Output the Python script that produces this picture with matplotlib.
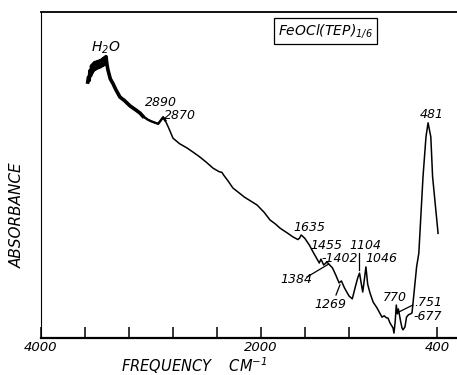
import matplotlib.pyplot as plt

plt.rcParams['font.family'] = ['Liberation Sans Narrow', 'DejaVu Sans']
plt.rcParams['font.style'] = 'italic'
plt.rcParams['mathtext.fontset'] = 'custom'
plt.rcParams['mathtext.rm'] = 'Liberation Sans Narrow:italic'
plt.rcParams['mathtext.it'] = 'Liberation Sans Narrow:italic'

# IR spectrum of FeOCl(TEP)1/6 : wavenumber (cm-1) / absorbance (arb. units)
wavenumber = [3575, 3568, 3562, 3555, 3548, 3540, 3533, 3527, 3520, 3512,
              3505, 3497, 3490, 3482, 3475, 3467, 3460, 3452, 3445, 3437,
              3430, 3422, 3415, 3409, 3400, 3391, 3370, 3345, 3320, 3282,
              3240, 3191, 3140, 3100, 3073, 3030, 3000, 2960, 2935, 2910,
              2890, 2870, 2840, 2800, 2740, 2673, 2600, 2555, 2500, 2436,
              2380, 2355, 2340, 2300, 2255, 2150, 2036, 1970, 1918, 1870,
              1827, 1760, 1709, 1665, 1650, 1635, 1615, 1600, 1560, 1527,
              1500, 1470, 1455, 1430, 1410, 1402, 1384, 1350, 1320, 1290,
              1269, 1240, 1200, 1170, 1140, 1120, 1104, 1090, 1075, 1060,
              1046, 1030, 1009, 980, 945, 900, 880, 860, 845, 827,
              800, 791, 780, 770, 760, 751, 730, 718, 709, 691,
              677, 660, 640, 627, 615, 585, 565, 527, 500, 481,
              456, 440, 390]
absorbance = [0.785, 0.800, 0.790, 0.820, 0.805, 0.835, 0.815, 0.840, 0.822, 0.845,
              0.825, 0.846, 0.828, 0.848, 0.830, 0.850, 0.832, 0.852, 0.835, 0.856,
              0.838, 0.860, 0.845, 0.863, 0.838, 0.822, 0.795, 0.780, 0.762, 0.739,
              0.728, 0.712, 0.700, 0.690, 0.680, 0.670, 0.665, 0.660, 0.657, 0.668,
              0.677, 0.667, 0.645, 0.613, 0.596, 0.583, 0.566, 0.555, 0.540, 0.521,
              0.510, 0.508, 0.500, 0.482, 0.460, 0.432, 0.408, 0.385, 0.362, 0.350,
              0.337, 0.322, 0.310, 0.302, 0.306, 0.316, 0.310, 0.305, 0.285, 0.264,
              0.248, 0.230, 0.242, 0.224, 0.230, 0.234, 0.227, 0.215, 0.193, 0.169,
              0.175, 0.153, 0.129, 0.120, 0.160, 0.185, 0.199, 0.170, 0.141, 0.180,
              0.218, 0.165, 0.138, 0.110, 0.092, 0.064, 0.068, 0.062, 0.061, 0.046,
              0.031, 0.015, 0.050, 0.101, 0.074, 0.089, 0.050, 0.031, 0.025, 0.034,
              0.064, 0.071, 0.074, 0.077, 0.117, 0.219, 0.260, 0.495, 0.617, 0.660,
              0.617, 0.495, 0.321]

tick_pos = [4000, 3600, 3200, 2800, 2400, 2000, 1600, 1200, 400]
tick_txt = ['4000', '', '', '', '', '2000', '', '', '400']

fig = plt.figure(figsize=(4.57, 3.75), dpi=100)
ax = fig.add_axes([0.0897, 0.0987, 0.9103, 0.8693])

ax.plot(wavenumber, absorbance, color='black', lw=1.1)
# the O-H region is noisy, draw it heavier and taper off
n1 = len([w for w in wavenumber if w >= 3060])
n2 = len([w for w in wavenumber if w >= 2860])
ax.plot(wavenumber[:n2], absorbance[:n2], color='black', lw=1.7)
ax.plot(wavenumber[:n1], absorbance[:n1], color='black', lw=2.6, solid_joinstyle='round')

ax.set_xlim(4000, 218)
ax.set_ylim(0, 1)
ax.set_yticks([])
ax.set_xticks(tick_pos)
ax.set_xticklabels(tick_txt)
ax.tick_params(axis='x', direction='in', length=8, width=1.1, pad=2.5, labelsize=9.5)

ax.spines['right'].set_visible(False)
ax.spines['bottom'].set_linewidth(1.6)
ax.spines['top'].set_linewidth(1.3)
ax.spines['left'].set_linewidth(0.8)

# peak labels
fs = 9
ax.text(3409, 0.890, r'H$_2$O', ha='center', va='center', fontsize=10)
ax.text(2909, 0.721, '2890', ha='center', va='center', fontsize=fs)
ax.text(2736, 0.681, '2870', ha='center', va='center', fontsize=fs)
ax.text(1564, 0.340, '1635', ha='center', va='center', fontsize=fs)
ax.text(1409, 0.285, '1455', ha='center', va='center', fontsize=fs)
ax.text(1282, 0.245, '-1402', ha='center', va='center', fontsize=fs)
ax.text(1682, 0.178, '1384', ha='center', va='center', fontsize=fs)
ax.text(1373, 0.104, '1269', ha='center', va='center', fontsize=fs)
ax.text(1055, 0.285, '1104', ha='center', va='center', fontsize=fs)
ax.text(909, 0.245, '1046', ha='center', va='center', fontsize=fs)
ax.text(782, 0.123, '770', ha='center', va='center', fontsize=fs)
ax.text(482, 0.110, '.751', ha='center', va='center', fontsize=fs)
ax.text(482, 0.067, '-677', ha='center', va='center', fontsize=fs)
ax.text(445, 0.687, '481', ha='center', va='center', fontsize=fs)

# leader lines
ax.plot([1582, 1384], [0.187, 0.227], color='black', lw=0.9)
ax.plot([1318, 1282], [0.132, 0.163], color='black', lw=0.9)
ax.plot([1109, 1109], [0.261, 0.209], color='black', lw=0.9)
ax.plot([620, 745], [0.101, 0.080], color='black', lw=0.9)

ax.text(0.570, 0.942, r'FeOCl(TEP)$_{1/6}$', transform=ax.transAxes,
        ha='left', va='center', fontsize=10,
        bbox=dict(boxstyle='square,pad=0.3', fc='white', ec='black', lw=0.9))

ax.text(-0.058, 0.377, 'ABSORBANCE', transform=ax.transAxes, rotation=90,
        ha='center', va='center', fontsize=11)
ax.text(0.368, -0.086, r'FREQUENCY    CM$^{-1}$', transform=ax.transAxes,
        ha='center', va='center', fontsize=10.5)

fig.savefig('out.png', dpi=100)
